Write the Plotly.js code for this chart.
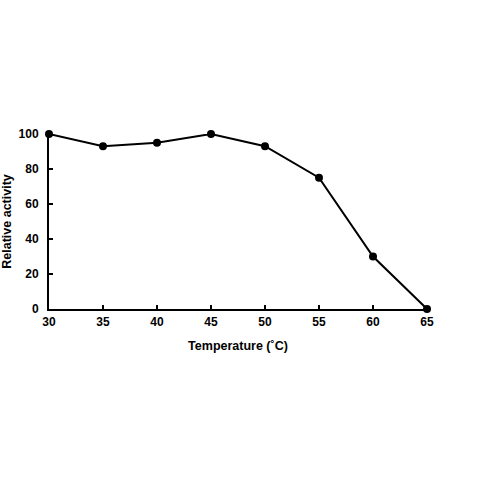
<!DOCTYPE html>
<html><head><meta charset="utf-8">
<script src="https://cdn.plot.ly/plotly-3.0.1.min.js"></script>
<style>html,body{margin:0;padding:0;background:#fff;}#chart{width:480px;height:480px;}</style>
</head><body><div id="chart"></div>
<script>
var temperatures = [30, 35, 40, 45, 50, 55, 60, 65];
var relativeActivity = [100, 93, 95, 100, 93, 75, 30, 0];
var xTicks = [30, 35, 40, 45, 50, 55, 60, 65];
var yTicks = [0, 20, 40, 60, 80, 100];

var font = {family: 'Liberation Sans, Arial, sans-serif', size: 12, color: '#000'};
var trace = {
  x: temperatures, y: relativeActivity, type: 'scatter', mode: 'lines+markers',
  line: {color: '#000', width: 2}, marker: {color: '#000', size: 8},
  cliponaxis: false, hoverinfo: 'skip'
};
var layout = {
  width: 480, height: 480,
  margin: {l: 49, r: 53, t: 134, b: 171},
  paper_bgcolor: '#fff', plot_bgcolor: '#fff',
  showlegend: false,
  font: font,
  xaxis: {
    range: [30, 65], tickvals: xTicks, ticktext: xTicks.map(String),
    showgrid: false, zeroline: false, showline: true, linecolor: '#000', linewidth: 2,
    ticks: 'inside', ticklen: 4, tickwidth: 2, tickcolor: '#000',
    ticklabelstandoff: 1,
    tickfont: {family: font.family, size: 12, color: '#000', weight: 'bold'},
    title: {text: '<b>Temperature (˚C)</b>', font: {family: font.family, size: 12.5, color: '#000'}, standoff: 13}
  },
  yaxis: {
    range: [0, 100], tickvals: yTicks, ticktext: yTicks.map(String),
    showgrid: false, zeroline: false, showline: true, linecolor: '#000', linewidth: 2,
    ticks: 'inside', ticklen: 4, tickwidth: 2, tickcolor: '#000',
    ticklabelstandoff: 6,
    tickfont: {family: font.family, size: 12, color: '#000', weight: 'bold'},
    title: {text: '<b>Relative activity</b>', font: {family: font.family, size: 12.5, color: '#000'}, standoff: 4}
  }
};
Plotly.newPlot('chart', [trace], layout, {staticPlot: true, displayModeBar: false});
</script></body></html>
